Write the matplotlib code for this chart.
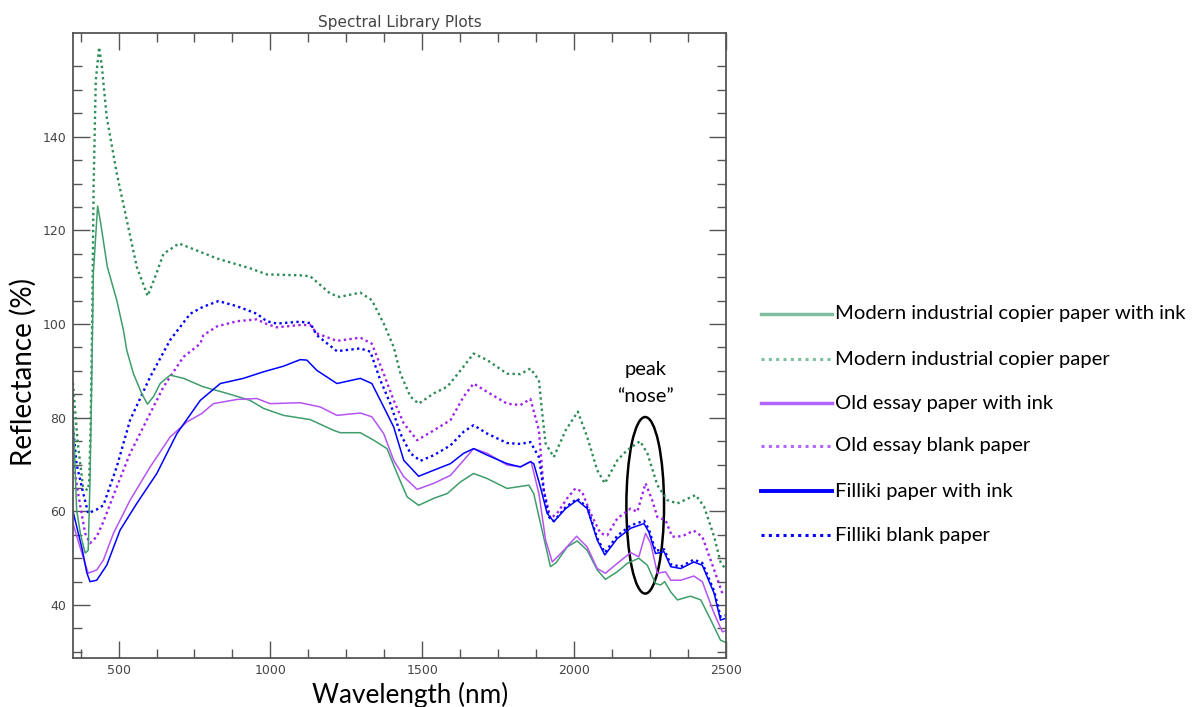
import matplotlib
matplotlib.use("Agg")
import matplotlib.pyplot as plt
from matplotlib.lines import Line2D
from matplotlib.patches import Ellipse
from matplotlib.ticker import FixedLocator, MultipleLocator

# ---- spectra (wavelength in nm, reflectance in %) ----
copier_ink_wl = [350, 362, 375, 390, 400, 406, 412, 417, 431, 440, 463, 494, 516, 527, 549, 576,
                 595, 615, 637, 670, 714, 779, 857, 933, 977, 1043, 1131, 1208, 1230, 1296, 1340,
                 1384, 1417, 1450, 1488, 1538, 1582, 1626, 1669, 1714, 1779, 1851, 1867, 1889,
                 1922, 1940, 1977, 2010, 2043, 2076, 2103, 2142, 2175, 2213, 2241, 2268, 2285,
                 2298, 2318, 2340, 2383, 2417, 2450, 2482, 2500]
copier_ink = [81.6, 60.3, 55.0, 51.1, 51.7, 66.7, 89.5, 110.8, 125.2, 122.0, 112.2, 105.1, 98.7,
              94.4, 89.4, 85.2, 82.9, 84.5, 87.3, 89.1, 88.4, 86.6, 85.2, 83.7, 82.0, 80.5, 79.6,
              77.3, 76.8, 76.8, 75.2, 73.4, 68.1, 63.1, 61.3, 62.8, 63.8, 66.3, 68.1, 67.0, 64.9,
              65.6, 63.8, 57.5, 48.2, 49.0, 52.4, 53.7, 51.7, 47.5, 45.5, 47.1, 48.9, 50.0, 48.5,
              44.6, 44.3, 45.0, 42.8, 41.1, 41.9, 41.1, 36.8, 32.5, 32.0]

copier_blank_wl = [350, 365, 383, 398, 403, 408, 413, 418, 425, 436, 445, 461, 494, 527, 560, 596,
                   620, 648, 699, 824, 933, 988, 1098, 1131, 1197, 1227, 1296, 1334, 1373, 1406,
                   1428, 1461, 1488, 1538, 1582, 1626, 1669, 1714, 1779, 1823, 1856, 1884, 1895,
                   1906, 1933, 1972, 2012, 2043, 2076, 2101, 2142, 2175, 2217, 2241, 2274, 2307,
                   2340, 2400, 2428, 2461, 2482, 2500]
copier_blank = [87.4, 75.0, 65.2, 64.5, 66.0, 78.0, 100.0, 130.0, 152.0, 159.1, 155.0, 144.2,
                132.2, 122.2, 112.2, 106.0, 110.0, 115.0, 117.2, 114.0, 111.9, 110.6, 110.4,
                110.2, 106.5, 105.8, 106.7, 105.1, 100.1, 95.1, 89.4, 84.5, 83.0, 85.2, 86.6,
                90.1, 93.7, 92.3, 89.4, 89.3, 90.5, 88.0, 80.9, 74.5, 71.6, 77.3, 81.3, 75.9,
                68.8, 66.0, 70.9, 73.1, 75.0, 72.4, 65.6, 62.4, 61.7, 63.5, 61.0, 54.6, 49.2, 47.5]

essay_ink_wl = [350, 373, 400, 428, 450, 483, 538, 604, 670, 725, 774, 812, 890, 955, 999, 1098,
                1164, 1219, 1296, 1334, 1373, 1406, 1439, 1483, 1538, 1593, 1636, 1669, 1714,
                1779, 1823, 1858, 1884, 1906, 1928, 1966, 2008, 2043, 2076, 2103, 2142, 2186,
                2213, 2235, 2252, 2274, 2301, 2318, 2351, 2394, 2422, 2461, 2488, 2500]
essay_ink = [57.4, 52.4, 46.8, 47.5, 49.6, 55.3, 62.4, 69.5, 75.9, 79.1, 80.9, 83.0, 83.9, 84.1,
             83.0, 83.2, 82.3, 80.5, 81.0, 80.2, 76.6, 70.9, 67.4, 64.7, 66.0, 67.7, 70.9, 73.4,
             72.4, 69.9, 69.5, 70.7, 63.8, 53.9, 49.2, 51.7, 54.7, 52.4, 47.8, 46.8, 48.9, 51.2,
             50.3, 55.3, 53.2, 46.8, 47.1, 45.3, 45.3, 46.2, 45.0, 38.2, 34.3, 34.5]

essay_blank_wl = [350, 367, 390, 406, 428, 450, 494, 538, 593, 648, 714, 769, 779, 824, 890, 955,
                  988, 1021, 1098, 1131, 1153, 1219, 1296, 1334, 1373, 1406, 1439, 1483, 1538,
                  1593, 1636, 1669, 1714, 1779, 1823, 1856, 1884, 1900, 1922, 1944, 1977, 2004,
                  2026, 2054, 2087, 2109, 2142, 2186, 2208, 2235, 2257, 2274, 2301, 2323, 2356,
                  2394, 2422, 2461, 2488, 2500]
essay_blank = [70.9, 63.8, 55.3, 53.2, 54.6, 57.8, 65.2, 72.4, 79.5, 86.6, 93.0, 95.8, 97.6, 99.5,
               100.6, 101.0, 100.0, 99.3, 99.8, 99.8, 98.0, 96.4, 97.1, 95.8, 89.4, 83.7, 78.8,
               75.2, 77.3, 79.5, 84.5, 87.3, 85.5, 83.0, 82.7, 84.0, 77.3, 64.5, 58.5, 59.6, 62.8,
               64.9, 64.2, 59.6, 55.3, 54.9, 58.5, 60.6, 59.9, 66.0, 62.4, 58.8, 58.1, 54.6, 54.7,
               55.9, 54.6, 47.5, 42.5, 42.3]

filliki_ink_wl = [350, 365, 380, 395, 406, 428, 461, 505, 560, 626, 692, 769, 835, 911, 977, 1043,
                  1098, 1120, 1153, 1219, 1296, 1334, 1373, 1406, 1439, 1488, 1538, 1593, 1636,
                  1669, 1714, 1779, 1823, 1856, 1867, 1889, 1911, 1933, 1972, 2010, 2043, 2076,
                  2101, 2142, 2186, 2230, 2246, 2268, 2296, 2318, 2351, 2394, 2422, 2461, 2482, 2500]
filliki_ink = [60.0, 56.0, 52.0, 47.0, 45.0, 45.3, 48.5, 56.0, 61.7, 68.1, 76.6, 83.7, 87.3, 88.4,
               89.8, 91.0, 92.4, 92.3, 90.1, 87.3, 88.4, 87.3, 82.3, 78.0, 70.9, 67.5, 68.8, 70.2,
               72.4, 73.4, 72.0, 70.2, 69.5, 70.6, 70.2, 65.2, 59.6, 57.8, 60.6, 62.4, 60.6, 53.9,
               50.7, 54.2, 56.4, 57.4, 55.6, 51.0, 51.4, 48.2, 47.8, 49.2, 48.5, 42.5, 36.8, 37.2]

filliki_blank_wl = [350, 362, 384, 400, 428, 450, 494, 538, 604, 670, 736, 779, 829, 890, 955, 988,
                    1021, 1098, 1131, 1153, 1219, 1296, 1329, 1362, 1395, 1428, 1461, 1494, 1538,
                    1593, 1636, 1669, 1714, 1779, 1823, 1856, 1884, 1900, 1917, 1933, 1972, 2010,
                    2043, 2076, 2101, 2142, 2186, 2230, 2246, 2268, 2296, 2318, 2351, 2394, 2422,
                    2461, 2482, 2500]
filliki_blank = [78.0, 70.0, 63.8, 59.6, 60.4, 61.3, 69.5, 79.5, 88.7, 96.6, 102.2, 103.7, 104.9,
                 103.8, 102.2, 100.6, 100.1, 100.5, 100.2, 97.6, 94.2, 94.8, 94.1, 88.0, 83.0, 76.6,
                 72.4, 70.8, 72.0, 74.1, 77.0, 78.4, 76.6, 74.6, 74.4, 74.8, 71.6, 64.5, 58.8, 57.9,
                 60.9, 62.7, 60.9, 54.3, 51.2, 54.8, 57.0, 58.0, 56.2, 51.6, 51.9, 48.7, 48.2, 49.7,
                 49.0, 43.0, 37.5, 37.8]

legend_labels = ["Modern industrial copier paper with ink",
                 "Modern industrial copier paper",
                 "Old essay paper with ink",
                 "Old essay blank paper",
                 "Filliki paper with ink",
                 "Filliki blank paper"]

x_major = [500, 1000, 1500, 2000, 2500]
y_major = [40, 60, 80, 100, 120, 140]
y_minor = list(range(30, 160, 5))

# ---- styling ----
GREEN, GREEN_INK = "#2e8b57", "#3f9d6c"
PURPLE, PURPLE_INK = "#a020f0", "#b455f2"
BLUE = "#0000ff"
DOT = (0, (1.0, 1.4))

W, H = 1194, 707
fig = plt.figure(figsize=(W / 100, H / 100), dpi=100)
ax = fig.add_axes([73 / W, 1 - 658 / H, (726 - 73) / W, (658 - 32.7) / H])

series = [
    (copier_blank_wl, copier_blank, GREEN, DOT, 1.7),
    (essay_blank_wl, essay_blank, PURPLE, DOT, 1.7),
    (filliki_blank_wl, filliki_blank, BLUE, DOT, 1.7),
    (copier_ink_wl, copier_ink, GREEN_INK, "-", 1.1),
    (essay_ink_wl, essay_ink, PURPLE_INK, "-", 1.1),
    (filliki_ink_wl, filliki_ink, BLUE, "-", 1.1),
]
for wl, val, col, ls, lw in series:
    ax.plot(wl, val, color=col, linestyle=ls, linewidth=lw)

ax.set_xlim(350, 2500)
ax.set_ylim(28.7, 162.2)
ax.xaxis.set_major_locator(FixedLocator(x_major))
ax.xaxis.set_minor_locator(MultipleLocator(125))
ax.yaxis.set_major_locator(FixedLocator(y_major))
ax.yaxis.set_minor_locator(FixedLocator(y_minor))
ax.tick_params(which="both", direction="in", top=True, right=True,
               color="#555555", labelcolor="#444444", labelsize=9)
ax.tick_params(which="major", length=12.5, width=1.0)
ax.tick_params(which="minor", length=6.5, width=1.0)
ax.tick_params(axis="x", pad=4)
ax.tick_params(axis="y", pad=5)
for s in ax.spines.values():
    s.set_color("#555555")
    s.set_linewidth(1.3)
ax.set_title("Spectral Library Plots", fontsize=11, color="#444444", pad=4)

# annotation around the 2230 nm feature
ax.add_patch(Ellipse((2234, 61.3), 124, 37.7, fill=False, edgecolor="black", linewidth=1.8))
ax.text(2234, 90.4, "peak", ha="center", va="center", fontsize=14.5, family="Lato", color="black")
ax.text(2234, 84.6, "\u201cnose\u201d", ha="center", va="center", fontsize=14.5, family="Lato",
        color="black")

# axis titles
fig.text(410 / W, 1 - 703 / H, "Wavelength (nm)", ha="center", va="baseline",
         fontsize=18.8, family="Lato", color="black")
fig.text(23 / W, 1 - 372 / H, "Reflectance (%)", ha="center", va="center", rotation=90,
         fontsize=20, family="Lato", color="black")

# legend drawn at the right of the plot
leg_rows = [314, 359, 403, 446, 491, 535]
leg_styles = [("#7fbf9f", "-", 2.5), ("#7fbf9f", DOT, 2.2), ("#b366ff", "-", 2.5),
              ("#b366ff", DOT, 2.2), (BLUE, "-", 2.8), (BLUE, DOT, 2.2)]
for y, (col, ls, lw), lab in zip(leg_rows, leg_styles, legend_labels):
    fy = 1 - y / H
    fig.add_artist(Line2D([761 / W, 832 / W], [fy, fy], color=col, linestyle=ls,
                          linewidth=lw, transform=fig.transFigure))
    fig.text(835 / W, fy, lab, ha="left", va="center", fontsize=14.6, family="Lato",
             color="black")

fig.savefig("out.png", dpi=100)
